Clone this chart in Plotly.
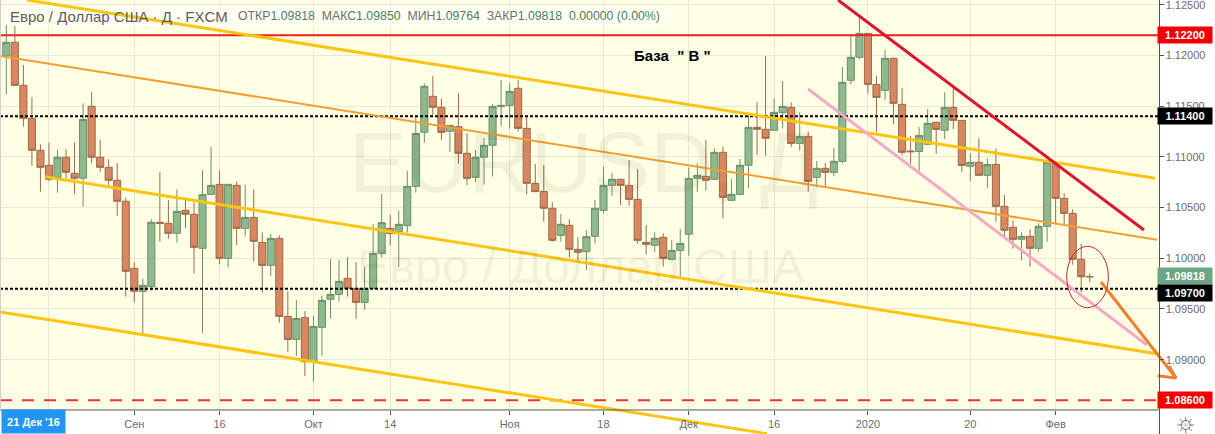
import plotly.graph_objects as go

# ---------------------------------------------------------------

open_prices = [
    1.11995, 1.12130, 1.11706, 1.11380, 1.11065, 1.10917, 1.10798, 1.10996, 1.10838, 1.10789,
    1.11499, 1.10996, 1.10897, 1.10769, 1.10562, 1.09901, 1.09674, 1.09720, 1.10355, 1.10345,
    1.10246, 1.10473, 1.10434, 1.10098, 1.10630, 1.10729, 1.09999, 1.10719, 1.10295, 1.10403,
    1.10157, 1.09930, 1.10196, 1.09427, 1.09200, 1.09417, 1.08980, 1.09319, 1.09595, 1.09644,
    1.09802, 1.09703, 1.09565, 1.09703, 1.10048, 1.10295, 1.10262, 1.10322, 1.10709, 1.11242,
    1.11597, 1.11489, 1.11252, 1.11298, 1.11035, 1.10798, 1.10996, 1.11114, 1.11495, 1.11508,
    1.11676, 1.11281, 1.10739, 1.10660, 1.10493, 1.10226, 1.10325, 1.10088, 1.10065, 1.10216,
    1.10473, 1.10719, 1.10779, 1.10719, 1.10581, 1.10157, 1.10128, 1.10207, 1.09990, 1.10078,
    1.10236, 1.10788, 1.10808, 1.10779, 1.11045, 1.10571, 1.10631, 1.10917, 1.11291, 1.11272,
    1.11262, 1.11436, 1.11488, 1.11133, 1.11202, 1.10798, 1.10887, 1.10847, 1.10956, 1.11755,
    1.11982, 1.12218, 1.11715, 1.11656, 1.11972, 1.11518, 1.11058, 1.11054, 1.11124, 1.11341,
    1.11262, 1.11488, 1.11360, 1.10907, 1.10946, 1.10818, 1.10926, 1.10512, 1.10305, 1.10187,
    1.10216, 1.10098, 1.10315, 1.10946, 1.10591, 1.10443, 1.09990, 1.09818,
]
high_prices = [
    1.12301, 1.12291, 1.11906, 1.11587, 1.11124, 1.11140, 1.11068, 1.11075, 1.11140, 1.11528,
    1.11640, 1.11167, 1.10976, 1.10936, 1.10598, 1.09960, 1.09799, 1.10384, 1.10848, 1.10575,
    1.10680, 1.10575, 1.10552, 1.10870, 1.11100, 1.10870, 1.10729, 1.10755, 1.10729, 1.10680,
    1.10255, 1.10239, 1.10226, 1.09674, 1.09588, 1.09480, 1.09430, 1.09634, 1.09992, 1.09983,
    1.10009, 1.09963, 1.09917, 1.10338, 1.10634, 1.10427, 1.10470, 1.10864, 1.11397, 1.11725,
    1.11798, 1.11571, 1.11314, 1.11627, 1.11232, 1.11068, 1.11183, 1.11521, 1.11758, 1.11725,
    1.11758, 1.11397, 1.10930, 1.10920, 1.10552, 1.10437, 1.10384, 1.10207, 1.10279, 1.10575,
    1.10903, 1.10844, 1.10779, 1.10969, 1.10880, 1.10328, 1.10256, 1.10246, 1.10180, 1.10289,
    1.10897, 1.10936, 1.11166, 1.11084, 1.11101, 1.10779, 1.10979, 1.11413, 1.11538, 1.11995,
    1.11577, 1.11748, 1.11538, 1.11439, 1.11248, 1.10959, 1.10939, 1.11087, 1.11886, 1.12212,
    1.12382, 1.12218, 1.11797, 1.12054, 1.11972, 1.11676, 1.11206, 1.11294, 1.11472, 1.11347,
    1.11636, 1.11676, 1.11360, 1.11035, 1.11183, 1.10986, 1.11084, 1.10624, 1.10374, 1.10256,
    1.10285, 1.10345, 1.10953, 1.10953, 1.10640, 1.10483, 1.10141, 1.09850,
]
low_prices = [
    1.11617, 1.11706, 1.11298, 1.10913, 1.10657, 1.10759, 1.10647, 1.10789, 1.10637, 1.10509,
    1.10936, 1.10851, 1.10719, 1.10420, 1.09622, 1.09566, 1.09260, 1.09681, 1.10164, 1.10194,
    1.10154, 1.10302, 1.09852, 1.09266, 1.10630, 1.09940, 1.09910, 1.10131, 1.10213, 1.09966,
    1.09660, 1.09825, 1.09365, 1.09079, 1.09036, 1.08839, 1.08783, 1.09039, 1.09407, 1.09572,
    1.09621, 1.09404, 1.09490, 1.09703, 1.10009, 1.10131, 1.09911, 1.10253, 1.10647, 1.11140,
    1.11410, 1.11166, 1.11051, 1.10933, 1.10723, 1.10752, 1.10726, 1.10805, 1.11301, 1.11278,
    1.11249, 1.10631, 1.10657, 1.10361, 1.10164, 1.10164, 1.10009, 1.09983, 1.09884, 1.10144,
    1.10443, 1.10614, 1.10525, 1.10516, 1.10144, 1.10039, 1.10062, 1.09917, 1.09990, 1.09819,
    1.10026, 1.10657, 1.10667, 1.10779, 1.10394, 1.10571, 1.10621, 1.10693, 1.11019, 1.11012,
    1.11262, 1.11281, 1.11097, 1.11064, 1.10657, 1.10699, 1.10699, 1.10808, 1.10936, 1.11715,
    1.11962, 1.11623, 1.11242, 1.11561, 1.11321, 1.11015, 1.10930, 1.10861, 1.11114, 1.11031,
    1.11176, 1.11275, 1.10851, 1.10762, 1.10818, 1.10690, 1.10361, 1.10213, 1.10095, 1.09980,
    1.09917, 1.10065, 1.10164, 1.10345, 1.10328, 1.09937, 1.09664, 1.09764,
]
close_prices = [
    1.12130, 1.11706, 1.11380, 1.11065, 1.10897, 1.10779, 1.10996, 1.10848, 1.10789, 1.11370,
    1.10996, 1.10897, 1.10769, 1.10562, 1.09871, 1.09674, 1.09733, 1.10355, 1.10345, 1.10246,
    1.10463, 1.10434, 1.10108, 1.10627, 1.10719, 1.09999, 1.10729, 1.10295, 1.10403, 1.10167,
    1.09930, 1.10196, 1.09427, 1.09200, 1.09407, 1.08980, 1.09328, 1.09585, 1.09644, 1.09772,
    1.09703, 1.09565, 1.09703, 1.10048, 1.10351, 1.10243, 1.10335, 1.10709, 1.11232, 1.11696,
    1.11489, 1.11242, 1.11311, 1.11035, 1.10788, 1.10996, 1.11114, 1.11498, 1.11508, 1.11646,
    1.11281, 1.10739, 1.10657, 1.10493, 1.10177, 1.10335, 1.10088, 1.10059, 1.10213, 1.10493,
    1.10719, 1.10779, 1.10719, 1.10581, 1.10177, 1.10138, 1.10197, 1.09999, 1.10078, 1.10147,
    1.10788, 1.10818, 1.10769, 1.11045, 1.10601, 1.10631, 1.10917, 1.11291, 1.11272, 1.11183,
    1.11439, 1.11498, 1.11133, 1.11202, 1.10759, 1.10887, 1.10847, 1.10956, 1.11735, 1.11982,
    1.12218, 1.11715, 1.11587, 1.11972, 1.11528, 1.11045, 1.11051, 1.11212, 1.11331, 1.11271,
    1.11488, 1.11360, 1.10916, 1.10946, 1.10818, 1.10926, 1.10512, 1.10276, 1.10187, 1.10216,
    1.10098, 1.10315, 1.10946, 1.10591, 1.10443, 1.09990, 1.09818, 1.09818,
]

x_tick_vals = [5, 15, 25, 36, 45, 59, 70, 80, 90, 101, 113, 123]
x_tick_text = ["", "Сен", "16", "Окт", "14", "Ноя", "18", "Дек", "16", "2020", "20", "Фев"]
y_tick_vals = [1.125, 1.12, 1.115, 1.11, 1.105, 1.10, 1.095, 1.09]
y_tick_text = ["1.12500", "1.12000", "1.11500", "1.11000", "1.10500", "1.10000", "1.09500", "1.09000"]

# trend lines drawn on the chart: (bar index, price) at both ends
upper_channel_x, upper_channel_y = [2.43, 134.65], [1.12547, 1.10789]
middle_channel_x, middle_channel_y = [-0.74, 134.88], [1.11995, 1.10183]
lower_channel_x, lower_channel_y = [4.54, 135.24], [1.10804, 1.09053]
bottom_channel_x, bottom_channel_y = [-0.74, 89.17], [1.09470, 1.08270]
red_trend_x, red_trend_y = [97.49, 133.36], [1.12547, 1.10279]
pink_trend_x, pink_trend_y = [93.98, 133.71], [1.11669, 1.09145]
arrow_x, arrow_y = [128.32, 137.11], [1.09766, 1.08819]
arrow_head_x, arrow_head_y = [134.97, 137.11, 136.29], [1.08842, 1.08819, 1.08938]

resistance_level = 1.12200
middle_level = 1.11400
support_level = 1.09700
target_level = 1.08600
last_price = 1.09818

# whole page is the subplot, the axes sit inside it
x_left, x_axis_end, x_right = -0.74, 135.08, 141.68
y_top, y_axis_end, y_bottom = 1.12547, 1.08504, 1.08267
x_labels = 138.2

font_name = "Liberation Sans"
axis_color = "#555555"

# ---------------------------------------------------------------

fig = go.Figure()

fig.add_trace(go.Candlestick(
    x=list(range(len(open_prices))),
    open=open_prices,
    high=high_prices,
    low=low_prices,
    close=close_prices,
    increasing=dict(line=dict(color="#6b8f68", width=1), fillcolor="#8fb98c"),
    decreasing=dict(line=dict(color="#9a6a4c", width=1), fillcolor="#d98760"),
    whiskerwidth=0,
))

def add_line(x, y, color, width, dash="solid"):
    fig.add_trace(go.Scatter(
        x=x, y=y, mode="lines",
        line=dict(color=color, width=width, dash=dash),
        hoverinfo="skip",
    ))

add_line([x_left, x_axis_end], [resistance_level] * 2, "#ea2027", 2)
add_line([x_left, x_axis_end], [target_level] * 2, "#e8343a", 2, "12px,10px")
add_line([x_left, x_axis_end], [middle_level] * 2, "#000000", 2, "3px,2px")
add_line([x_left, x_axis_end], [support_level] * 2, "#000000", 2, "3px,2px")
add_line(middle_channel_x, middle_channel_y, "#f0a030", 2)
add_line(upper_channel_x, upper_channel_y, "#fcc512", 3)
add_line(lower_channel_x, lower_channel_y, "#fcc512", 3)
add_line(bottom_channel_x, bottom_channel_y, "#fcc512", 3)
add_line(pink_trend_x, pink_trend_y, "#f4a9c5", 3)
add_line(red_trend_x, red_trend_y, "#d8182f", 3)
add_line(arrow_x, arrow_y, "#f08030", 3)
add_line(arrow_head_x, arrow_head_y, "#f08030", 3)

# settings icon under the price scale
fig.add_trace(go.Scatter(
    x=[138.25, 138.25], y=[1.08356, 1.08356], mode="markers",
    marker=dict(symbol=["asterisk-open", "circle"], size=[14, 9], color=["#444444", "#ffffff"],
                line=dict(color="#444444", width=1)),
    hoverinfo="skip",
))

shapes = [
    # legend backdrop, then the white strips under the scales
    dict(type="rect", layer="between", x0=-0.1, x1=77.8, y0=1.12498, y1=1.12271,
         fillcolor="rgba(255,255,255,0.45)", line_width=0),
    dict(type="rect", layer="between", x0=x_left, x1=x_right, y0=y_axis_end, y1=y_bottom,
         fillcolor="#ffffff", line_width=0),
    dict(type="rect", layer="between", x0=x_axis_end, x1=x_right, y0=y_bottom, y1=y_top,
         fillcolor="#ffffff", line_width=0),
    dict(type="line", layer="above", x0=x_left, x1=x_axis_end, y0=y_axis_end, y1=y_axis_end,
         line=dict(color=axis_color, width=1)),
    dict(type="line", layer="above", x0=-0.68, x1=-0.68, y0=y_axis_end, y1=y_top,
         line=dict(color="#d0d0d0", width=1)),
    # circle round the last two bars
    dict(type="circle", layer="above", x0=124.3, x1=129.18, y0=1.09513, y1=1.10118,
         line=dict(color="#b02a3a", width=1)),
]

def price_label(y, text, color, shift=0):
    return dict(
        x=x_labels, y=y, text=f"<b>{text}</b>", showarrow=False, yshift=shift,
        width=54, height=16, bgcolor=color, borderpad=0,
        font=dict(family=font_name, size=11, color="#ffffff"),
    )

value_color = "#4e7d67"
label_color = "#6e6e6e"
ohlc_parts = [("ОТКР", "1.09818"), ("МАКС", "1.09850"), ("МИН", "1.09764"), ("ЗАКР", "1.09818")]
ohlc_text = "\u00a0\u00a0".join(
    f'<span style="color:{label_color}">{k}</span>{v}' for k, v in ohlc_parts
) + "\u00a0\u00a00.00000\u00a0(0.00%)"

annotations = [
    # watermark
    dict(x=67.7, y=1.1095, text="EURUSD, Д", showarrow=False,
         font=dict(family=font_name, size=86, color="rgba(60,60,20,0.07)")),
    dict(x=67.4, y=1.09925, text="Евро / Доллар США", showarrow=False,
         font=dict(family=font_name, size=48.5, color="rgba(60,60,20,0.07)")),
    # legend line
    dict(x=0.2, y=1.12385, text="Евро / Доллар США · Д · FXCM", showarrow=False, xanchor="left",
         font=dict(family=font_name, size=15, color="#5d5d5d")),
    dict(x=26.95, y=1.12385, text=ohlc_text, showarrow=False, xanchor="left",
         font=dict(family=font_name, size=12.3, color=value_color)),
    dict(x=78.1, y=1.11995, text="<b>База\u00a0\u00a0\" В \"</b>", showarrow=False, xanchor="center",
         font=dict(family=font_name, size=15, color="#000000")),
    # price scale labels
    price_label(resistance_level, "1.12200", "#f00000"),
    price_label(middle_level, "1.11400", "#000000"),
    price_label(last_price, "1.09818", "#6ba583", 1),
    price_label(support_level, "1.09700", "#000000", -4),
    price_label(target_level, "1.08600", "#f00000"),
    # date under the cursor
    dict(x=3.2, y=1.08387, text="<b>21 Дек '16</b>", showarrow=False, xanchor="center",
         width=63, height=23, bgcolor="#2196f3", borderpad=0,
         font=dict(family=font_name, size=11, color="#ffffff")),
]

fig.update_layout(
    width=1215,
    height=434,
    margin=dict(l=0, r=0, t=0, b=0),
    showlegend=False,
    paper_bgcolor="#ffffff",
    plot_bgcolor="#ffffe6",
    boxgap=0.1,
    boxgroupgap=0.08,
    shapes=shapes,
    annotations=annotations,
    xaxis=dict(
        range=[x_left, x_right],
        rangeslider=dict(visible=False),
        anchor="free",
        position=24 / 434,
        tickmode="array",
        tickvals=x_tick_vals,
        ticktext=x_tick_text,
        ticks="outside",
        ticklen=4,
        tickcolor=axis_color,
        showline=False,
        zeroline=False,
        showgrid=True,
        gridcolor="#e9e9d2",
        tickfont=dict(family=font_name, size=11, color="#6b6b6b"),
    ),
    yaxis=dict(
        range=[y_bottom, y_top],
        side="right",
        anchor="free",
        position=1158.5 / 1215,
        tickmode="array",
        tickvals=y_tick_vals,
        ticktext=y_tick_text,
        ticks="outside",
        ticklen=4,
        tickcolor=axis_color,
        ticklabeloverflow="allow",
        showline=True,
        linecolor=axis_color,
        linewidth=1,
        zeroline=False,
        showgrid=True,
        gridcolor="#e9e9d2",
        tickfont=dict(family=font_name, size=11, color="#6b6b6b"),
    ),
)

# the page default body margin would push the chart off the window
fig.write_html(
    "out.html",
    config=dict(displayModeBar=False),
    post_script="document.body.style.margin = '0';",
)
